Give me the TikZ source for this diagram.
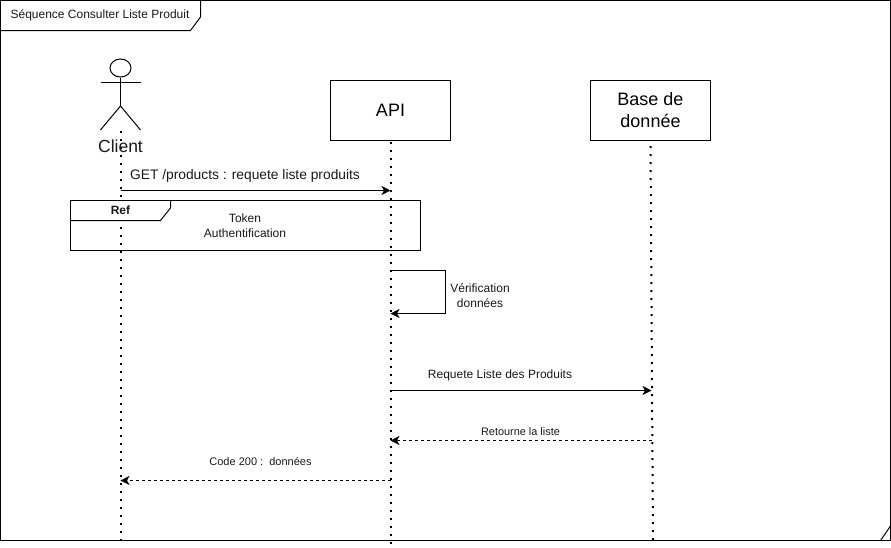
\documentclass[tikz,border=0pt]{standalone}
\usepackage{fontspec}
\setmainfont{Liberation Sans}
\usetikzlibrary{arrows.meta,shapes.geometric}
\tikzset{
  x=1pt,y=-1pt,
  every path/.style={line width=1pt,black},
  lbl/.style={inner sep=0pt,outer sep=0pt,align=center,text=black!90},
  lifeobj/.style={draw,fill=white,minimum width=120pt,minimum height=60pt,inner sep=0pt,align=center,font=\fontsize{18}{22}\selectfont,anchor=center},
  lifeline/.style={line width=2pt,dash pattern=on 2pt off 6pt},
  msg/.style={-{Stealth[length=9pt,width=9pt,inset=2.5pt]}},
  reply/.style={msg,dash pattern=on 3pt off 3pt},
}
\begin{document}
\begin{tikzpicture}
\useasboundingbox (0,0) rectangle (891,547);
\fill[white] (0,0) rectangle (891,547);
% frame
\draw (0.5,0.5) rectangle (890.5,540.5);
\draw (880.5,540.5) -- (890.5,526);
\draw (0.5,30.5) -- (190.5,30.5) -- (200.5,17) -- (200.5,0.5);
\node[lbl,font=\fontsize{12}{15}\selectfont] (title) at (100,15) {Séquence Consulter Liste Produit};
% lifeline objects
\node[lifeobj] (api) at (390.5,110.5) {API};
\node[lifeobj] (db) at (650.5,110.5) {Base de\\donnée};
\coordinate (clientTop) at (120.5,131);
\coordinate (clientEnd) at (120.5,540);
\coordinate (apiEnd) at (390.5,547);
\coordinate (dbEnd) at (653,540);
\draw[lifeline] (clientTop) -- (clientEnd);
\draw[lifeline] (api.south) ++(0,1) -- (apiEnd);
\draw[lifeline] (db.south) ++(0,5) -- (dbEnd);
% actor
\node[ellipse,draw,minimum width=21pt,minimum height=18pt,inner sep=0pt] (head) at (120.5,68) {};
\coordinate (hip) at (120.5,106);
\draw (head.south) -- (hip);
\draw (100.5,82.5) -- (140.5,82.5);
\draw (100.5,130) -- (hip) -- (140.5,130);
\node[lbl,font=\fontsize{17.5}{20}\selectfont] (client) at (120.5,146) {Client};
% messages
\coordinate (c1) at (120.5,190.5);
\coordinate (a1) at (390.5,190.5);
\draw[msg] (c1) -- (a1);
\node[lbl,font=\fontsize{13.8}{16}\selectfont] (m1) at (245,175.5) {GET /products : requete liste produits};
% ref
\fill[white] (70.5,200.5) -- (170.5,200.5) -- (170.5,208) -- (160.5,220.5) -- (70.5,220.5) -- cycle;
\draw (70.5,200.5) rectangle (420.5,250.5);
\draw (170.5,200.5) -- (170.5,208) -- (160.5,220.5) -- (70.5,220.5);
\node[lbl,font=\fontsize{12}{14}\selectfont\bfseries] (ref) at (120.5,210) {Ref};
\node[lbl,font=\fontsize{12}{15}\selectfont] (tok) at (245,225.5) {Token\\Authentification};
% self
\coordinate (s1) at (390.5,270.5);
\coordinate (s2) at (445.5,270.5);
\coordinate (s3) at (445.5,313.5);
\coordinate (s4) at (390.5,313.5);
\draw[msg] (s1) -- (s2) -- (s3) -- (s4);
\node[lbl,font=\fontsize{12}{15}\selectfont] (m2) at (480,295.5) {Vérification\\données};
% query
\coordinate (a2) at (390.5,390.5);
\coordinate (d2) at (651.5,390.5);
\draw[msg] (a2) -- (d2);
\node[lbl,font=\fontsize{12}{15}\selectfont] (m3) at (500,375) {Requete Liste des Produits};
\coordinate (d3) at (652,440.5);
\coordinate (a3) at (390.5,440.5);
\draw[reply] (d3) -- (a3);
\node[lbl,font=\fontsize{10.9}{13}\selectfont] (m4) at (520.5,431.5) {Retourne la liste};
\coordinate (a4) at (390.5,480.5);
\coordinate (c4) at (120.5,480.5);
\draw[reply] (a4) -- (c4);
\node[lbl,font=\fontsize{11}{13}\selectfont] (m5) at (260.5,461.5) {Code 200 :\ \ données};
\end{tikzpicture}
\end{document}
